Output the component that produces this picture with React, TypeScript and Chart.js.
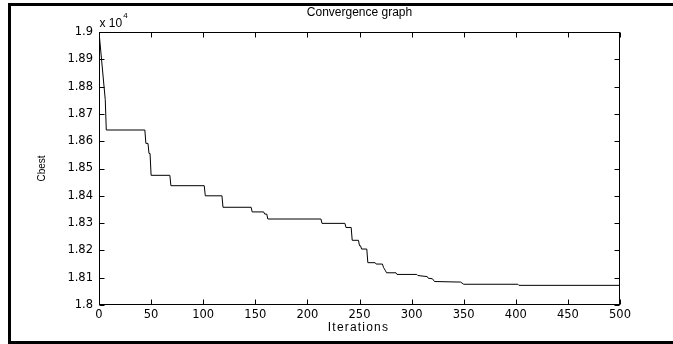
import React, { useEffect, useRef } from "react";
import { Chart, registerables } from "chart.js";

Chart.register(...registerables);

// Iteration at which each value is reached (best cost so far)
const iterations = [
  0, 6, 7, 44, 45, 47, 48, 49, 50, 68, 69, 101, 102, 118, 119, 146, 147, 158, 159, 161, 162,
  213, 214, 236, 237, 242, 243, 249, 250, 251, 252, 257, 258, 265, 266, 272, 273, 275, 276,
  285, 286, 305, 306, 315, 316, 320, 322, 347, 350, 402, 403, 500,
];
const cbest = [
  19000, 18752, 18641, 18641, 18592, 18592, 18555, 18555, 18475, 18475, 18437, 18437, 18400,
  18400, 18358, 18358, 18341, 18341, 18333, 18333, 18315, 18315, 18299, 18299, 18284, 18284,
  18237, 18237, 18217, 18217, 18205, 18205, 18155, 18155, 18150, 18150, 18138, 18125, 18118,
  18118, 18112, 18112, 18108, 18104, 18098, 18096, 18086, 18084, 18076, 18076, 18072, 18072,
];

const xMin = 0;
const xMax = 500;
const xStep = 50;
const yMin = 18000;
const yMax = 19000;
const yStep = 100;
const yScaleExponent = 4;

const titleText = "Convergence graph";
const xLabelText = "Iterations";
const yLabelText = "Cbest";

const FONT = "'Liberation Sans', Arial, Helvetica, sans-serif";
const TICK_FONT = "'DejaVu Sans', 'Liberation Sans', sans-serif";

const matlabFrame = {
  id: "matlabFrame",
  afterDraw(chart: any) {
    const { ctx, chartArea: a, scales } = chart;
    const L = Math.round(a.left) + 0.5;
    const R = Math.round(a.right) - 0.5;
    const T = Math.round(a.top) + 0.5;
    const B = Math.round(a.bottom) - 0.5;
    ctx.save();
    ctx.strokeStyle = "#000";
    ctx.lineWidth = 1;
    ctx.strokeRect(L, T, R - L, B - T);
    const tl = 5;
    ctx.beginPath();
    scales.x.ticks.forEach((t: any) => {
      const px = Math.round(scales.x.getPixelForValue(t.value)) + 0.5;
      ctx.moveTo(px, B);
      ctx.lineTo(px, B - tl);
      ctx.moveTo(px, T);
      ctx.lineTo(px, T + tl);
    });
    scales.y.ticks.forEach((t: any) => {
      const py = Math.round(scales.y.getPixelForValue(t.value)) + 0.5;
      ctx.moveTo(L, py);
      ctx.lineTo(L + tl, py);
      ctx.moveTo(R, py);
      ctx.lineTo(R - tl, py);
    });
    ctx.stroke();

    ctx.fillStyle = "#000";
    const cx = (L + R) / 2;
    ctx.textAlign = "center";
    ctx.textBaseline = "middle";
    ctx.font = `12px ${FONT}`;
    ctx.fillText(titleText, cx, 13);
    ctx.save();
    (ctx as any).letterSpacing = "1.2px";
    ctx.fillText(xLabelText, cx - 1, 328);
    ctx.restore();

    ctx.save();
    ctx.translate(42, (T + B) / 2);
    ctx.rotate(-Math.PI / 2);
    ctx.font = `10px ${FONT}`;
    ctx.fillText(yLabelText, 0, 0);
    ctx.restore();

    ctx.textAlign = "left";
    ctx.font = `12px ${FONT}`;
    const base = "x 10";
    ctx.fillText(base, L, 24);
    const w = ctx.measureText(base).width;
    ctx.font = `8px ${FONT}`;
    ctx.fillText(String(yScaleExponent), L + w + 1, 16);
    ctx.restore();
  },
};

export default function App() {
  const ref = useRef<HTMLCanvasElement | null>(null);
  useEffect(() => {
    if (!ref.current) return;
    const chart = new Chart(ref.current, {
      type: "line",
      data: {
        datasets: [
          {
            data: iterations.map((x, i) => ({ x, y: cbest[i] })),
            borderColor: "#000",
            borderWidth: 1,
            pointRadius: 0,
            tension: 0,
            fill: false,
          },
        ],
      },
      options: {
        animation: false,
        responsive: false,
        maintainAspectRatio: false,
        layout: { padding: { top: 32, right: 53, bottom: 0, left: 0 } },
        plugins: { legend: { display: false }, title: { display: false }, tooltip: { enabled: false } },
        scales: {
          x: {
            type: "linear",
            min: xMin,
            max: xMax,
            grid: { display: false, drawTicks: false, tickLength: 0 },
            border: { display: false },
            ticks: {
              stepSize: xStep,
              autoSkip: false,
              maxRotation: 0,
              padding: 3,
              color: "#000",
              font: { family: TICK_FONT, size: 11.5 },
            },
            afterFit(scale: any) {
              scale.height = 39;
            },
          },
          y: {
            type: "linear",
            min: yMin,
            max: yMax,
            grid: { display: false, drawTicks: false, tickLength: 0 },
            border: { display: false },
            ticks: {
              stepSize: yStep,
              autoSkip: false,
              padding: 6,
              color: "#000",
              font: { family: TICK_FONT, size: 11.5 },
              callback: (v: any) => String(Math.round(Number(v) / 10) / 1000),
            },
            afterFit(scale: any) {
              scale.width = 99;
            },
          },
        },
      },
      plugins: [matlabFrame],
    });
    return () => chart.destroy();
  }, []);
  return (
    <div style={{ position: "fixed", left: 0, top: 0, width: 673, height: 344, background: "#fff", overflow: "hidden" }}>
      <div
        style={{
          position: "absolute",
          left: 8,
          top: 3,
          width: 720,
          height: 341,
          border: "3px solid #000",
          boxSizing: "border-box",
        }}
      />
      <canvas ref={ref} width={673} height={344} style={{ position: "absolute", left: 0, top: 0, width: 673, height: 344 }} />
    </div>
  );
}
